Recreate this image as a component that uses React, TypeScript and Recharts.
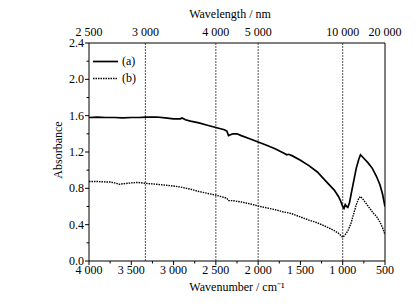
import { LineChart, Line, XAxis, YAxis, ReferenceLine, Label } from "recharts";

// spectrum (a)
const wavenumberA = [
  4000, 3900, 3800, 3700, 3600, 3500, 3400, 3333, 3200, 3100, 3000, 2920, 2900, 2860, 2800,
  2700, 2600, 2500, 2400, 2370, 2350, 2300, 2250, 2200, 2100, 2000, 1900, 1800, 1700, 1660,
  1640, 1600, 1500, 1400, 1300, 1200, 1100, 1050, 1020, 1000, 985, 970, 955, 940, 920, 900,
  870, 840, 810, 790, 770, 740, 700, 650, 600, 560, 530, 500
];
const absorbanceA = [
  1.58, 1.585, 1.58, 1.58, 1.575, 1.58, 1.58, 1.585, 1.585, 1.575, 1.565, 1.565, 1.575, 1.555, 1.54,
  1.52, 1.495, 1.47, 1.445, 1.43, 1.38, 1.4, 1.4, 1.38, 1.345, 1.31, 1.275, 1.235, 1.19, 1.17,
  1.175, 1.16, 1.11, 1.05, 0.98, 0.88, 0.78, 0.71, 0.65, 0.6, 0.58, 0.62, 0.6, 0.59, 0.64, 0.74,
  0.88, 1.02, 1.12, 1.17, 1.15, 1.12, 1.08, 1.02, 0.93, 0.84, 0.74, 0.6
];

// spectrum (b)
const wavenumberB = [
  4000, 3900, 3800, 3750, 3700, 3640, 3600, 3500, 3420, 3333, 3200, 3100, 3000, 2920, 2800,
  2700, 2600, 2500, 2400, 2370, 2350, 2300, 2200, 2100, 2000, 1900, 1800, 1700, 1640, 1600,
  1500, 1400, 1300, 1200, 1100, 1050, 1000, 970, 940, 900, 870, 840, 810, 790, 760, 720, 680,
  640, 600, 560, 530, 500
];
const absorbanceB = [
  0.875, 0.875, 0.87, 0.87, 0.86, 0.845, 0.85, 0.86, 0.865, 0.855, 0.845, 0.835, 0.825, 0.815, 0.79,
  0.765, 0.745, 0.725, 0.7, 0.69, 0.665, 0.665, 0.65, 0.63, 0.605, 0.585, 0.565, 0.54, 0.53, 0.52,
  0.485, 0.45, 0.42, 0.38, 0.335, 0.305, 0.26, 0.29, 0.33, 0.42, 0.52, 0.62, 0.69, 0.71, 0.68, 0.63,
  0.58, 0.53, 0.49, 0.43, 0.37, 0.29
];

const seriesNames = ["(a)", "(b)"];
const wavenumberTicks = [
  4000, 3750, 3500, 3250, 3000, 2750, 2500, 2250, 2000, 1750, 1500, 1250, 1000, 750, 500
];
const wavelengthTicks = [2500, 3000, 4000, 5000, 10000, 20000];
const markerWavelengths = [3000, 4000, 5000, 10000];
const absorbanceTicks = [0, 0.2, 0.4, 0.6, 0.8, 1.0, 1.2, 1.4, 1.6, 1.8, 2.0, 2.2, 2.4];

const dataA = wavenumberA.map((wn, i) => ({ wn, abs: absorbanceA[i] }));
const dataB = wavenumberB.map((wn, i) => ({ wn, abs: absorbanceB[i] }));

const FONT = "'Liberation Serif', 'Times New Roman', serif";

// "4000" -> "4 000"
const spaced = (n: number) =>
  n >= 1000 ? `${Math.floor(n / 1000)} ${String(n % 1000).padStart(3, "0")}` : String(n);

function BottomTick(props: any) {
  const { x, y, payload } = props;
  const major = payload.value % 500 === 0;
  return (
    <g>
      <line x1={x} x2={x} y1={y} y2={y + (major ? 4 : 2.5)} stroke="#000" />
      {major && (
        <text x={x} y={y + 13} textAnchor="middle" fontSize={12} fill="#000" style={{ fontFamily: FONT }}>
          {spaced(payload.value)}
        </text>
      )}
    </g>
  );
}

function TopTick(props: any) {
  const { x, y, payload } = props;
  return (
    <text x={x} y={y} textAnchor="middle" fontSize={12} fill="#000" style={{ fontFamily: FONT }}>
      {spaced(Math.round(1e7 / payload.value))}
    </text>
  );
}

function LeftTick(props: any) {
  const { x, y, payload } = props;
  const major = Math.round(payload.value * 10) % 4 === 0;
  return (
    <g>
      <line x1={x - (major ? 4 : 2.5)} x2={x} y1={y} y2={y} stroke="#000" />
      {major && (
        <text x={x - 5} y={y + 4} textAnchor="end" fontSize={12} fill="#000" style={{ fontFamily: FONT }}>
          {payload.value.toFixed(1)}
        </text>
      )}
    </g>
  );
}

export default function App() {
  return (
    <div
      style={{
        position: "absolute",
        left: 0,
        top: 0,
        width: 420,
        height: 306,
        background: "#fff",
        fontFamily: FONT
      }}
    >
      <LineChart
        width={420}
        height={306}
        margin={{ top: 23, right: 35, bottom: 25, left: 59 }}
        style={{ fontFamily: FONT }}
      >
        <XAxis
          xAxisId="bottom"
          dataKey="wn"
          type="number"
          domain={[500, 4000]}
          reversed
          allowDataOverflow
          ticks={wavenumberTicks}
          interval={0}
          height={20}
          tickSize={0}
          tickMargin={0}
          tick={<BottomTick />}
          axisLine={{ stroke: "#000" }}
        >
          <Label
            value="Wavenumber / cm⁻¹"
            position="bottom"
            offset={1}
            fontSize={12}
            fill="#000"
            style={{ fontFamily: FONT }}
          />
        </XAxis>
        <XAxis
          xAxisId="top"
          dataKey="wn"
          orientation="top"
          type="number"
          domain={[500, 4000]}
          reversed
          allowDataOverflow
          ticks={wavelengthTicks.map((nm) => 1e7 / nm)}
          interval={0}
          height={20}
          tickSize={0}
          tickMargin={7}
          tickLine={false}
          tick={<TopTick />}
          axisLine={{ stroke: "#000" }}
        >
          <Label
            value="Wavelength / nm"
            position="top"
            offset={5}
            dx={-7}
            fontSize={12}
            fill="#000"
            style={{ fontFamily: FONT }}
          />
        </XAxis>
        <YAxis
          type="number"
          domain={[0, 2.4]}
          ticks={absorbanceTicks}
          interval={0}
          width={30}
          tickSize={0}
          tickMargin={0}
          tick={<LeftTick />}
          axisLine={{ stroke: "#000" }}
        >
          <Label
            content={({ viewBox }: any) => {
              const cx = viewBox.x + 3;
              const cy = viewBox.y + viewBox.height / 2 - 2;
              return (
                <text
                  x={cx}
                  y={cy}
                  transform={`rotate(-90, ${cx}, ${cy})`}
                  textAnchor="middle"
                  fontSize={12}
                  fill="#000"
                  style={{ fontFamily: FONT }}
                >
                  Absorbance
                </text>
              );
            }}
          />
        </YAxis>
        <ReferenceLine xAxisId="bottom" x={500} stroke="#000" />
        {markerWavelengths.map((nm) => (
          <ReferenceLine
            key={nm}
            xAxisId="bottom"
            x={1e7 / nm}
            stroke="#555"
            strokeDasharray="2 1"
          />
        ))}
        {/* invisible copy so the wavelength axis has data to lay out its ticks */}
        <Line
          xAxisId="top"
          data={dataA}
          dataKey="abs"
          stroke="none"
          dot={false}
          activeDot={false}
          legendType="none"
          isAnimationActive={false}
        />
        <Line
          xAxisId="bottom"
          data={dataA}
          dataKey="abs"
          name={seriesNames[0]}
          type="linear"
          stroke="#000"
          strokeWidth={1.7}
          dot={false}
          isAnimationActive={false}
        />
        <Line
          xAxisId="bottom"
          data={dataB}
          dataKey="abs"
          name={seriesNames[1]}
          type="linear"
          stroke="#000"
          strokeWidth={1.4}
          strokeDasharray="1.5 1"
          dot={false}
          isAnimationActive={false}
        />
      </LineChart>
      <div
        style={{
          position: "absolute",
          left: 93,
          top: 53,
          fontSize: 12,
          lineHeight: "17px",
          color: "#000"
        }}
      >
        {seriesNames.map((name, i) => (
          <div key={name} style={{ display: "flex", alignItems: "center" }}>
            <svg width={27} height={17}>
              <line
                x1={0}
                x2={25}
                y1={8.5}
                y2={8.5}
                stroke="#000"
                strokeWidth={i === 0 ? 1.7 : 1.4}
                strokeDasharray={i === 0 ? undefined : "1.5 1"}
              />
            </svg>
            <span style={{ marginLeft: 2 }}>{name}</span>
          </div>
        ))}
      </div>
    </div>
  );
}
